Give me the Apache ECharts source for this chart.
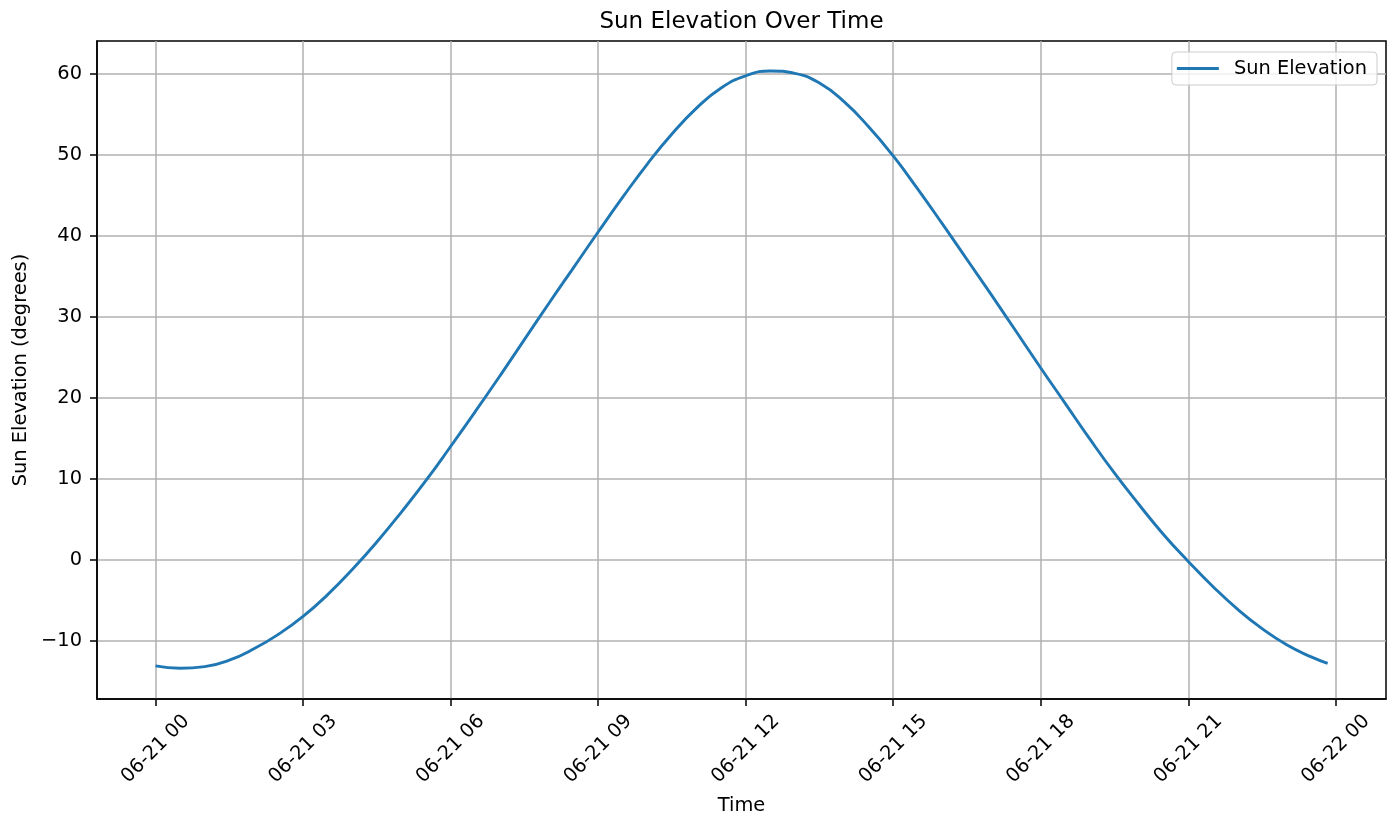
<!DOCTYPE html>
<html>
<head>
<meta charset="utf-8">
<script src="https://cdn.jsdelivr.net/npm/echarts@6/dist/echarts.min.js"></script>
<style>
html,body{margin:0;padding:0;background:#fff;}
#chart{width:1399px;height:822px;}
</style>
</head>
<body>
<div id="chart"></div>
<script>
// Time of day on 06-21 in hours (0 = 06-21 00:00)
const hours = [0,0.5,1,1.5,2,2.5,3,3.5,4,4.5,5,5.5,6,6.5,7,7.5,8,8.5,9,9.5,10,10.5,11,11.5,
  12,12.5,13,13.5,14,14.5,15,15.5,16,16.5,17,17.5,18,18.5,19,19.5,20,20.5,21,21.5,22,22.5,23,23.5,23.8333];
// Sun elevation in degrees
const elevation = [-13.1,-13.4,-13.2,-12.4,-11.0,-9.2,-7.0,-4.3,-1.2,2.2,5.9,9.8,14.0,18.3,22.7,27.2,31.7,36.1,40.5,44.8,48.9,52.6,55.8,58.3,
  59.8,60.4,60.1,58.9,56.6,53.5,49.9,45.8,41.5,37.1,32.7,28.2,23.7,19.3,14.9,10.7,6.8,3.1,-0.2,-3.3,-6.1,-8.5,-10.5,-12.0,-12.8];
const xTickHours = [0,3,6,9,12,15,18,21,24];
const xTickLabels = ['06-21 00','06-21 03','06-21 06','06-21 09','06-21 12','06-21 15','06-21 18','06-21 21','06-22 00'];
const yTicks = [-10,0,10,20,30,40,50,60];

const FONT = 'DejaVu Sans';
const chart = echarts.init(document.getElementById('chart'), null, {renderer:'canvas'});
const option = {
  animation:false,
  backgroundColor:'#fff',
  textStyle:{fontFamily:FONT},
  title:{
    text:'Sun Elevation Over Time',
    left:741.5, top:11, padding:0, textAlign:'center',
    textStyle:{fontFamily:FONT, fontSize:23, fontWeight:'normal', color:'#000'}
  },
  legend:{
    right:22, top:52,
    padding:[7,10,7,5],
    itemWidth:42, itemHeight:3,
    borderColor:'#cccccc', borderWidth:1, borderRadius:4,
    backgroundColor:'rgba(255,255,255,0.8)',
    textStyle:{fontFamily:FONT, fontSize:19.4, color:'#000', padding:[0,0,0,10]},
    data:[{name:'Sun Elevation', icon:'rect'}]
  },
  grid:{
    left:97, right:13, top:41, bottom:123,
    show:true, borderColor:'#000', borderWidth:1.5, backgroundColor:'transparent'
  },
  xAxis:{
    type:'value', min:-1.19, max:25.02,
    name:'Time', nameLocation:'middle', nameGap:97,
    nameTextStyle:{fontFamily:FONT, fontSize:19.4, color:'#000', verticalAlign:'top'},
    axisLine:{show:true, onZero:false, lineStyle:{color:'#000', width:1.5}},
    axisTick:{show:true, length:7, lineStyle:{color:'#000', width:1.5}, customValues:xTickHours},
    axisLabel:{
      customValues:xTickHours, rotate:45, align:'center', verticalAlign:'middle', margin:50,
      fontFamily:FONT, fontSize:19.4, color:'#000',
      formatter:function(v){ const i = xTickHours.indexOf(Math.round(v)); return i>=0 ? xTickLabels[i] : ''; }
    },
    splitLine:{show:true, lineStyle:{color:'#b0b0b0', width:1.5}}
  },
  yAxis:{
    type:'value', min:-17.2, max:64.1,
    name:'Sun Elevation (degrees)', nameLocation:'middle', nameGap:66,
    nameTextStyle:{fontFamily:FONT, fontSize:19.4, color:'#000'},
    axisLine:{show:true, onZero:false, lineStyle:{color:'#000', width:1.5}},
    axisTick:{show:true, length:7, lineStyle:{color:'#000', width:1.5}, customValues:yTicks},
    axisLabel:{
      customValues:yTicks, margin:15, fontFamily:FONT, fontSize:19.4, color:'#000',
      formatter:function(v){ return v<0 ? '\u2212'+Math.abs(v) : String(v); }
    },
    splitLine:{show:true, lineStyle:{color:'#b0b0b0', width:1.5}}
  },
  series:[{
    name:'Sun Elevation', type:'line',
    data:hours.map((h,i)=>[h, elevation[i]]),
    symbol:'none', smooth:0.5,
    lineStyle:{color:'#1f77b4', width:2.9},
    itemStyle:{color:'#1f77b4'}
  }]
};
chart.setOption(option);
</script>
</body>
</html>
